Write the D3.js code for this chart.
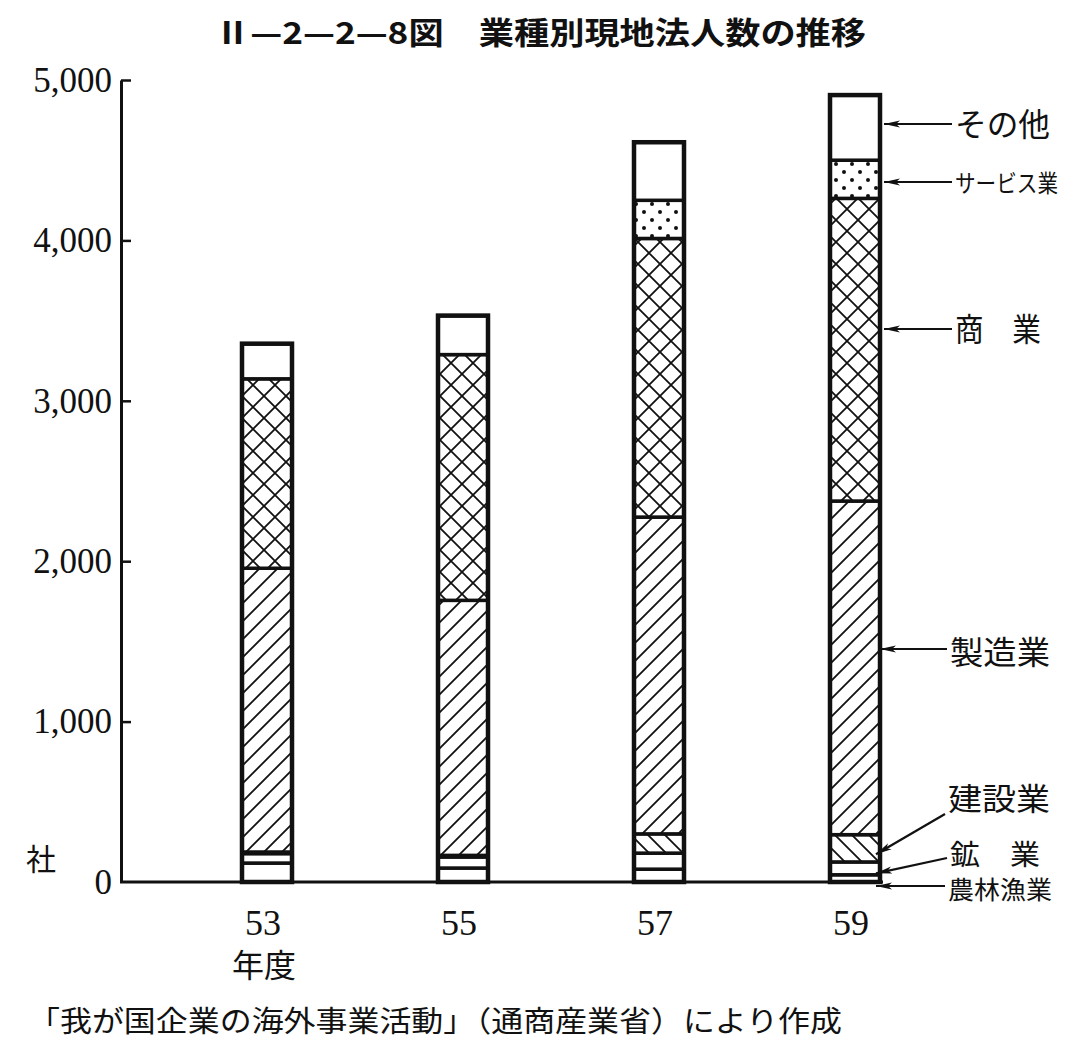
<!DOCTYPE html>
<html>
<head>
<meta charset="utf-8">
<script src="https://cdn.jsdelivr.net/npm/d3@7"></script>
<style>
  body { margin: 0; background: #fff; }
  svg { display: block; }
  .jp { font-family: "Noto Sans CJK JP", sans-serif; fill: #111; }
  .num { font-family: "Liberation Serif", serif; fill: #111; }
</style>
</head>
<body>
<svg width="1075" height="1039"></svg>
<script>
// years (昭和, 年度)
const years = ["53", "55", "57", "59"];
// 社数 by industry, bottom to top
const agri = [118, 87, 80, 45];            // 農林漁業
const mining = [59, 69, 100, 80];          // 鉱業
const construction = [10, 10, 120, 170];   // 建設業
const manufacturing = [1769, 1590, 1975, 2080]; // 製造業
const commerce = [1181, 1532, 1737, 1887]; // 商業
const services = [0, 0, 238, 238];         // サービス業
const others = [219, 243, 362, 406];       // その他
const yTicks = [0, 1000, 2000, 3000, 4000, 5000];

const keys = ["農林漁業", "鉱業", "建設業", "製造業", "商業", "サービス業", "その他"];
const series = [agri, mining, construction, manufacturing, commerce, services, others];
const rows = years.map((yr, i) => {
  const r = { year: yr };
  keys.forEach((k, j) => { r[k] = series[j][i]; });
  return r;
});

const svg = d3.select("svg");

const y = d3.scaleLinear().domain([0, 5000]).range([882, 80]);
const x = d3.scalePoint().domain(years).range([267, 855]);
const barW = 50;

// hatch patterns
const defs = svg.append("defs");
function pattern(id, size, draw) {
  const p = defs.append("pattern")
    .attr("id", id)
    .attr("patternUnits", "userSpaceOnUse")
    .attr("width", size)
    .attr("height", size);
  p.append("rect").attr("width", size).attr("height", size).attr("fill", "#fff");
  draw(p, size);
}
pattern("diag", 18, (p, s) => {
  p.append("path")
    .attr("d", `M0,${s} L${s},0 M${-s / 2},${s / 2} L${s / 2},${-s / 2} M${s / 2},${s * 1.5} L${s * 1.5},${s / 2}`)
    .attr("stroke", "#111").attr("stroke-width", 1.8);
});
pattern("back", 17, (p, s) => {
  p.append("path")
    .attr("d", `M0,0 L${s},${s} M${-s / 2},${s / 2} L${s / 2},${s * 1.5} M${s / 2},${-s / 2} L${s * 1.5},${s / 2}`)
    .attr("stroke", "#111").attr("stroke-width", 1.8);
});
pattern("cross", 22, (p, s) => {
  p.append("path")
    .attr("d", `M0,0 L${s},${s} M${s},0 L0,${s}`)
    .attr("stroke", "#111").attr("stroke-width", 1.8);
});
pattern("dots", 16, (p, s) => {
  p.append("circle").attr("cx", 4).attr("cy", 4).attr("r", 2).attr("fill", "#111");
  p.append("circle").attr("cx", 12).attr("cy", 12).attr("r", 2).attr("fill", "#111");
});

const fills = {
  "農林漁業": "#fff",
  "鉱業": "#fff",
  "建設業": "url(#back)",
  "製造業": "url(#diag)",
  "商業": "url(#cross)",
  "サービス業": "url(#dots)",
  "その他": "#fff"
};

const stack = d3.stack().keys(keys);
const stacked = stack(rows);

// bars
const layer = svg.append("g")
  .selectAll("g")
  .data(stacked)
  .enter()
  .append("g")
  .attr("fill", (d) => fills[d.key]);

layer.selectAll("rect")
  .data((d) => d.filter((s) => s[1] - s[0] > 0))
  .enter()
  .append("rect")
  .attr("x", (d) => x(d.data.year) - barW / 2)
  .attr("width", barW)
  .attr("y", (d) => y(d[1]))
  .attr("height", (d) => y(d[0]) - y(d[1]))
  .attr("stroke", "#111")
  .attr("stroke-width", 3.5);

// bar outline
svg.append("g")
  .selectAll("rect")
  .data(rows)
  .enter()
  .append("rect")
  .attr("x", (d) => x(d.year) - barW / 2)
  .attr("width", barW)
  .attr("y", (d) => y(d3.sum(keys, (k) => d[k])))
  .attr("height", (d) => y(0) - y(d3.sum(keys, (k) => d[k])))
  .attr("fill", "none")
  .attr("stroke", "#111")
  .attr("stroke-width", 4.5);

// y axis, ticks pointing inward
const yAxis = d3.axisLeft(y)
  .tickValues(yTicks)
  .tickFormat(d3.format(","))
  .tickSizeInner(-10)
  .tickSizeOuter(0)
  .tickPadding(9);

const ag = svg.append("g")
  .attr("transform", "translate(121,0)")
  .call(yAxis);
ag.select(".domain").attr("stroke", "#111").attr("stroke-width", 3);
ag.selectAll(".tick line").attr("stroke", "#111").attr("stroke-width", 2.5)
  .filter((d) => d === 0).remove();
ag.selectAll(".tick text")
  .attr("class", "num")
  .attr("font-size", 35)
  .attr("font-family", "Liberation Serif, serif")
  .attr("fill", "#111");

// baseline
svg.append("line")
  .attr("x1", 120).attr("x2", 883)
  .attr("y1", y(0)).attr("y2", y(0))
  .attr("stroke", "#111").attr("stroke-width", 3);

// x labels
svg.append("g")
  .selectAll("text")
  .data(years)
  .enter()
  .append("text")
  .attr("class", "num")
  .attr("x", (d) => x(d) - 4)
  .attr("y", 935)
  .attr("text-anchor", "middle")
  .attr("font-size", 36)
  .text((d) => d);

svg.append("text").attr("class", "jp")
  .attr("x", x("53") - 3).attr("y", 977)
  .attr("text-anchor", "middle")
  .attr("font-size", 32)
  .text("年度");

svg.append("text").attr("class", "jp")
  .attr("x", 41).attr("y", 870)
  .attr("text-anchor", "middle")
  .attr("font-size", 30)
  .text("社");

// title
svg.append("text").attr("class", "jp")
  .attr("x", 215).attr("y", 44)
  .attr("font-size", 31)
  .attr("font-weight", "bold")
  .attr("textLength", 651)
  .attr("lengthAdjust", "spacingAndGlyphs")
  .text("Ⅱ—2—2—8図　業種別現地法人数の推移");

// source
svg.append("text").attr("class", "jp")
  .attr("x", 28).attr("y", 1032)
  .attr("font-size", 29)
  .attr("textLength", 814)
  .attr("lengthAdjust", "spacingAndGlyphs")
  .text("「我が国企業の海外事業活動」（通商産業省）により作成");

// labels with arrows pointing to the last bar
defs.append("marker")
  .attr("id", "head")
  .attr("viewBox", "0 0 16 8")
  .attr("refX", 16).attr("refY", 4)
  .attr("markerWidth", 16).attr("markerHeight", 8)
  .attr("markerUnits", "userSpaceOnUse")
  .attr("orient", "auto")
  .append("path")
  .attr("d", "M16,4 L0,0.5 L4,4 L0,7.5 Z")
  .attr("fill", "#111");

const lastIdx = years.length - 1;
const mid = (k) => {
  const s = stacked[keys.indexOf(k)][lastIdx];
  return (s[0] + s[1]) / 2;
};
const labelInfo = [
  { text: "その他", ty: 124, sy: 124, ay: 124, ax: 884, size: 32, len: 95, tx: 955 },
  { text: "サービス業", ty: 183, sy: 182, ay: 182, ax: 884, size: 24, len: 103, tx: 955 },
  { text: "商　業", ty: 329, sy: 329, ay: 329, ax: 884, size: 32, len: 86, tx: 955 },
  { text: "製造業", ty: 652, sy: 649, ay: 649, ax: 880, size: 32, len: 100, tx: 950 },
  { text: "建設業", ty: 799, sy: 814, ay: y(mid("建設業")) + 6, ax: 876, size: 31, len: 102, tx: 948 },
  { text: "鉱　業", ty: 855, sy: 858, ay: y(mid("鉱業")) + 5, ax: 876, size: 28, len: 90, tx: 950 },
  { text: "農林漁業", ty: 890, sy: 886, ay: 886, ax: 876, size: 25, len: 104, tx: 948 }
];

const lab = svg.append("g").selectAll("g").data(labelInfo).enter().append("g");
lab.append("line")
  .attr("x1", (d) => d.tx - 3)
  .attr("y1", (d) => d.sy)
  .attr("x2", (d) => d.ax)
  .attr("y2", (d) => d.ay)
  .attr("stroke", "#111")
  .attr("stroke-width", 2.2)
  .attr("marker-end", "url(#head)");
lab.append("text")
  .attr("class", "jp")
  .attr("x", (d) => d.tx)
  .attr("y", (d) => d.ty)
  .attr("dy", "0.36em")
  .attr("font-size", (d) => d.size)
  .attr("textLength", (d) => d.len)
  .attr("lengthAdjust", "spacingAndGlyphs")
  .text((d) => d.text);
</script>
</body>
</html>
